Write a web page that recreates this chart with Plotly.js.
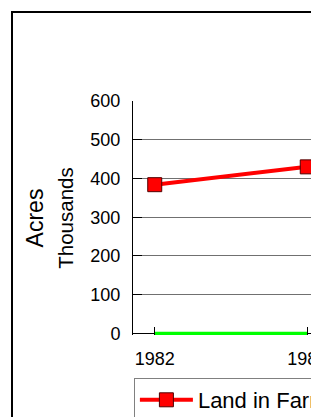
<!DOCTYPE html>
<html>
<head>
<meta charset="utf-8">
<script src="https://cdn.plot.ly/plotly-3.0.1.min.js"></script>
<style>
  html, body { margin:0; padding:0; overflow:hidden; background:#fff; }
  #chart { position:absolute; left:11px; top:11px; width:650px; height:500px; border:2px solid #000; }
</style>
</head>
<body>
<div id="chart"></div>
<script>
const years = ['1982', '1987'];
const landInFarms = [384, 430];
const otherSeries = [0, 0];
const seriesNames = ['Land in Farms', 'Irrigated Land'];
const yTicks = [0, 100, 200, 300, 400, 500, 600];

const FONT = 'Arial, "Liberation Sans", sans-serif';

const traces = [
  {
    x: years, y: otherSeries, name: seriesNames[1], type: 'scatter', mode: 'lines',
    line: { color: '#00ff00', width: 3.5 }
  },
  {
    x: years, y: landInFarms, name: seriesNames[0], type: 'scatter', mode: 'lines+markers',
    line: { color: '#ff0000', width: 4 },
    marker: { symbol: 'square', size: 14, color: '#ff0000', line: { color: '#500000', width: 1 } }
  }
];

const layout = {
  width: 650, height: 500,
  margin: { l: 120, r: 334, t: 88, b: 178 },
  paper_bgcolor: '#fff', plot_bgcolor: '#fff',
  font: { family: FONT, size: 18, color: '#000' },
  showlegend: true,
  legend: {
    traceorder: 'reversed',
    orientation: 'h', xref: 'container', yref: 'container',
    x: 0.186, y: 0.27, xanchor: 'left', yanchor: 'top',
    itemwidth: 53,
    bordercolor: '#808080', borderwidth: 1, bgcolor: '#fff',
    font: { family: FONT, size: 22, color: '#000' }
  },
  xaxis: {
    type: 'category', range: [-0.1425, 1.1425],
    showline: false,
    ticks: 'inside', ticklen: 8, tickcolor: '#000',
    showgrid: false, zeroline: false,
    tickfont: { family: FONT, size: 18 }, ticklabelstandoff: 11
  },
  yaxis: {
    range: [-4, 600], tickvals: yTicks, ticktext: yTicks.map(String),
    showline: true, linecolor: '#000', linewidth: 1,
    ticks: 'inside', ticklen: 9, tickcolor: '#000',
    showgrid: true, gridcolor: '#707070', gridwidth: 1,
    zeroline: true, zerolinecolor: '#000', zerolinewidth: 1,
    tickfont: { family: FONT, size: 18 }, ticklabelstandoff: 8,
    title: { text: 'Acres<br><span style="font-size:20.5px">Thousands</span>', font: { family: FONT, size: 23 }, standoff: 10 }
  }
};

Plotly.newPlot('chart', traces, layout, { staticPlot: true, displayModeBar: false });
</script>
</body>
</html>
